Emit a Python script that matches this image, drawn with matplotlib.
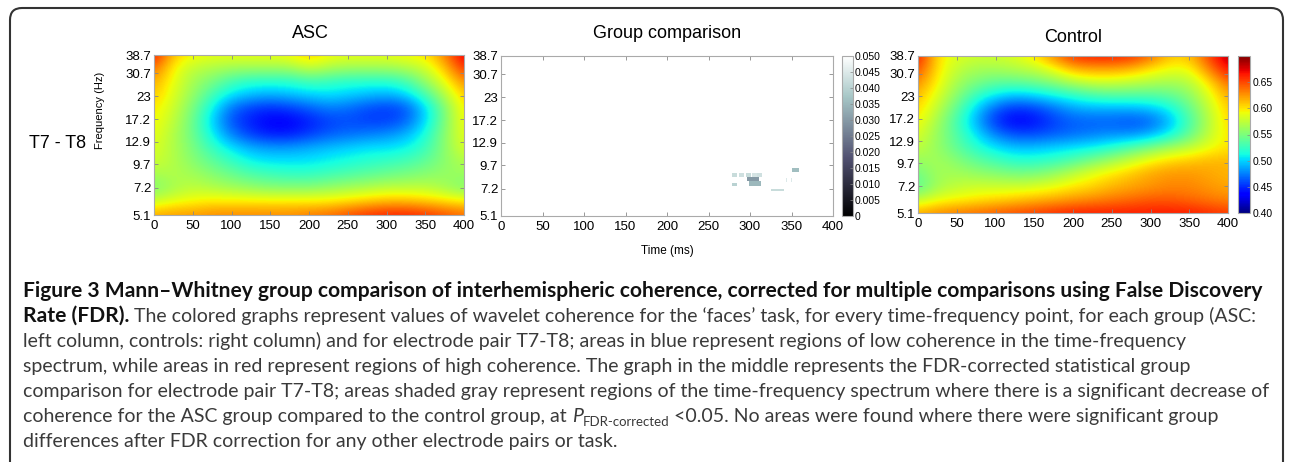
import numpy as np
import matplotlib
matplotlib.use('Agg')
import matplotlib.pyplot as plt
from matplotlib.patches import FancyBboxPatch
from matplotlib.transforms import IdentityTransform

W, H = 1290, 462
plt.rcParams['font.family'] = ['Liberation Sans', 'DejaVu Sans']

# ---- data ----
times = [0, 25, 50, 75, 100, 125, 150, 175, 200, 225, 250, 275, 300, 325, 350, 375, 400]
freq_rows = [5.1, 6.0, 7.15, 8.5, 10.0, 11.9, 14.1, 16.7, 19.7, 23.4, 27.7, 32.7, 38.7]
freq_ticks = [5.1, 7.2, 9.7, 12.9, 17.2, 23, 30.7, 38.7]
freq_labels = ['5.1', '7.2', '9.7', '12.9', '17.2', '23', '30.7', '38.7']
time_ticks = [0, 50, 100, 150, 200, 250, 300, 350, 400]

# ASC coherence, rows = freq_rows (bottom -> top), cols = times
asc = [
    [.620, .625, .625, .630, .630, .630, .630, .630, .635, .640, .650, .660, .665, .665, .660, .650, .640],
    [.580, .590, .595, .600, .600, .600, .600, .600, .600, .600, .605, .610, .615, .615, .610, .605, .600],
    [.550, .565, .575, .570, .565, .560, .555, .555, .555, .560, .565, .570, .575, .575, .575, .565, .550],
    [.565, .570, .565, .555, .545, .535, .530, .525, .525, .530, .535, .540, .545, .550, .555, .560, .560],
    [.580, .570, .555, .540, .525, .510, .505, .505, .505, .510, .515, .520, .525, .530, .540, .555, .570],
    [.585, .570, .550, .525, .505, .490, .485, .485, .490, .495, .500, .505, .505, .510, .525, .555, .585],
    [.590, .570, .545, .510, .475, .455, .445, .445, .455, .465, .470, .475, .480, .490, .515, .555, .590],
    [.595, .575, .545, .500, .460, .445, .435, .435, .445, .455, .460, .455, .455, .465, .500, .550, .595],
    [.600, .580, .550, .510, .470, .455, .450, .455, .465, .475, .470, .460, .455, .460, .500, .550, .600],
    [.610, .585, .560, .530, .505, .495, .490, .495, .500, .505, .500, .495, .490, .500, .530, .570, .610],
    [.620, .590, .565, .550, .530, .520, .520, .520, .530, .525, .520, .520, .520, .530, .560, .590, .630],
    [.640, .595, .575, .570, .565, .565, .565, .565, .580, .570, .565, .565, .565, .570, .580, .610, .660],
    [.670, .610, .595, .590, .590, .590, .590, .595, .610, .595, .590, .590, .590, .595, .600, .630, .680],
]

# Control coherence
control = [
    [.620, .630, .635, .640, .645, .650, .655, .660, .665, .665, .665, .665, .665, .665, .665, .660, .655],
    [.575, .590, .595, .600, .605, .610, .615, .620, .625, .630, .635, .640, .645, .645, .640, .635, .630],
    [.535, .565, .575, .580, .580, .580, .585, .590, .600, .605, .615, .620, .625, .630, .630, .625, .620],
    [.545, .565, .565, .560, .555, .550, .550, .560, .575, .590, .600, .610, .620, .625, .625, .620, .615],
    [.560, .565, .555, .540, .530, .520, .520, .525, .535, .550, .565, .580, .595, .605, .610, .615, .615],
    [.575, .560, .540, .520, .505, .495, .495, .500, .505, .510, .520, .535, .550, .565, .575, .590, .600],
    [.585, .560, .535, .505, .475, .460, .460, .465, .470, .475, .480, .480, .490, .510, .540, .575, .600],
    [.595, .565, .530, .490, .450, .435, .440, .455, .465, .465, .465, .460, .465, .490, .530, .570, .605],
    [.605, .575, .540, .500, .465, .450, .455, .470, .485, .490, .490, .490, .495, .510, .540, .575, .610],
    [.615, .585, .555, .525, .505, .495, .500, .510, .520, .530, .535, .535, .535, .540, .555, .585, .620],
    [.630, .595, .565, .550, .540, .540, .545, .555, .570, .580, .580, .575, .570, .565, .570, .600, .640],
    [.650, .600, .575, .565, .565, .570, .575, .590, .615, .620, .620, .615, .600, .590, .590, .630, .670],
    [.670, .600, .585, .580, .580, .585, .600, .630, .660, .665, .665, .660, .640, .610, .610, .650, .690],
]

# significant patches in the group comparison (time ms, freq Hz, p)
sig_t0 = [278, 286, 294, 302, 309, 296, 298, 278, 325, 342, 348, 351]
sig_t1 = [284, 292, 300, 308, 313, 310, 312, 283, 340, 344, 350, 358]
sig_f0 = [8.45, 8.45, 8.45, 8.45, 8.45, 7.9, 7.4, 7.4, 7.0, 7.8, 7.8, 8.9]
sig_f1 = [8.75, 8.75, 8.75, 8.75, 8.75, 8.45, 7.9, 7.7, 7.25, 8.3, 8.3, 9.4]
sig_p = [.042, .043, .042, .044, .043, .030, .035, .040, .042, .045, .045, .036]

cb_ticks_p = [0, .005, .010, .015, .020, .025, .030, .035, .040, .045, .050]
cb_ticks_c = [.40, .45, .50, .55, .60, .65]

# ---- figure ----
fig = plt.figure(figsize=(W / 100, H / 100), dpi=100)


def add_ax(l, t, r, b):
    return fig.add_axes([l / W, 1 - b / H, (r - l) / W, (b - t) / H])


lf = np.log2(freq_rows)
step = (lf[-1] - lf[0]) / (len(lf) - 1)
ext = [times[0] - 12.5, times[-1] + 12.5, lf[0] - step / 2, lf[-1] + step / 2]


def style(ax):
    ax.set_xlim(0, 400)
    ax.set_ylim(lf[0], lf[-1])
    ax.set_xticks(time_ticks)
    ax.set_yticks(np.log2(freq_ticks), freq_labels)
    ax.tick_params(direction='in', top=True, right=True, length=3, width=0.6,
                   color='#888888', labelcolor='black', labelsize=9.5, pad=2)
    ax.tick_params(axis='x', pad=3.5)
    for s in ax.spines.values():
        s.set_color('#aaaaaa')
        s.set_linewidth(0.8)


ax1 = add_ax(154, 55, 464, 215)
im1 = ax1.imshow(np.array(asc), origin='lower', aspect='auto', extent=ext,
                 cmap='jet', vmin=0.40, vmax=0.70, interpolation='bicubic')
style(ax1)

ax2 = add_ax(501, 56, 833, 216)
tg = np.arange(1, 400, 2)
fe = np.linspace(lf[0], lf[-1], 147)
fc = (fe[:-1] + fe[1:]) / 2
grid = np.full((len(fc), len(tg)), np.nan)
for t0, t1, f0, f1, p in zip(sig_t0, sig_t1, sig_f0, sig_f1, sig_p):
    ci = (tg >= t0) & (tg <= t1)
    ri = (fc >= np.log2(f0)) & (fc <= np.log2(f1))
    grid[np.ix_(ri, ci)] = p
bone = plt.get_cmap('bone').copy()
bone.set_bad('white')
im2 = ax2.imshow(grid, origin='lower', aspect='auto', extent=[0, 400, lf[0], lf[-1]],
                 cmap=bone, vmin=0, vmax=0.05, interpolation='nearest')
style(ax2)
cax2 = add_ax(842, 56, 853, 216)
cb2 = fig.colorbar(im2, cax=cax2, ticks=cb_ticks_p)
cb2.ax.set_yticklabels(['0'] + ['%.3f' % v for v in cb_ticks_p[1:]])
cb2.ax.tick_params(direction='in', length=2, width=0.5, color='#888888', labelsize=7.5, pad=1)
cb2.outline.set_edgecolor('#aaaaaa')
cb2.outline.set_linewidth(0.8)

ax3 = add_ax(918, 56, 1228, 213)
im3 = ax3.imshow(np.array(control), origin='lower', aspect='auto', extent=ext,
                 cmap='jet', vmin=0.40, vmax=0.70, interpolation='bicubic')
style(ax3)
cax3 = add_ax(1238, 56, 1250, 213)
cb3 = fig.colorbar(im3, cax=cax3, ticks=cb_ticks_c)
cb3.ax.set_yticklabels(['%.2f' % v for v in cb_ticks_c])
cb3.ax.tick_params(direction='in', length=2, width=0.5, color='#888888', labelsize=7.5, pad=2)
cb3.outline.set_edgecolor('#aaaaaa')
cb3.outline.set_linewidth(0.8)

# titles and labels
fig.text(310 / W, 1 - 34 / H, 'ASC', ha='center', va='center', fontsize=13)
fig.text(667 / W, 1 - 33 / H, 'Group comparison', ha='center', va='center', fontsize=13)
fig.text(1073 / W, 1 - 37 / H, 'Control', ha='center', va='center', fontsize=13)
fig.text(58 / W, 1 - 143 / H, 'T7 - T8', ha='center', va='center', fontsize=13)
fig.text(100 / W, 1 - 110 / H, 'Frequency (Hz)', ha='center', va='center',
         rotation=90, fontsize=8)
fig.text(667 / W, 1 - 251 / H, 'Time (ms)', ha='center', va='center', fontsize=8.5)

# frame with rounded top corners
frame = FancyBboxPatch((10, -30), 1273, H - 8 + 30, boxstyle='round,pad=0,rounding_size=12',
                       transform=IdentityTransform(), facecolor='none',
                       edgecolor='#333333', linewidth=1.5, clip_on=False)
fig.patches.append(frame)

# caption
renderer = fig.canvas.get_renderer()
cap_font = ['Lato', 'DejaVu Sans']
bold_col = '#111111'
reg_col = '#3a3a3a'


def put(x, y, s, size, **kw):
    t = fig.text(x / W, 1 - y / H, s, va='baseline', ha='left', fontsize=size,
                 family=cap_font, **kw)
    return t.get_window_extent(renderer).x1


def width_at(s, size, **kw):
    t = fig.text(0, 0, s, fontsize=size, family=cap_font, **kw)
    w = t.get_window_extent(renderer).width
    t.remove()
    return w


line1 = ('Figure 3 Mann\u2013Whitney group comparison of interhemispheric coherence, '
         'corrected for multiple comparisons using False Discovery')
line5 = ('comparison for electrode pair T7-T8; areas shaded gray represent regions of the '
         'time-frequency spectrum where there is a significant decrease of')
fs_b = 12 * 1232 / width_at(line1, 12, weight='bold')
fs = 12 * 1244 / width_at(line5, 12)

x0 = 23
base = [297, 322, 347, 372, 397, 422, 447]
put(x0, base[0], line1, fs_b, weight='bold', color=bold_col)
x = put(x0, base[1], 'Rate (FDR).', fs_b, weight='bold', color=bold_col)
put(x, base[1], ' The colored graphs represent values of wavelet coherence for the \u2018faces\u2019 '
    'task, for every time-frequency point, for each group (ASC:', fs, color=reg_col)
put(x0, base[2], 'left column, controls: right column) and for electrode pair T7-T8; areas in '
    'blue represent regions of low coherence in the time-frequency', fs, color=reg_col)
put(x0, base[3], 'spectrum, while areas in red represent regions of high coherence. The graph in '
    'the middle represents the FDR-corrected statistical group', fs, color=reg_col)
put(x0, base[4], line5, fs, color=reg_col)
x = put(x0, base[5], 'coherence for the ASC group compared to the control group, at ', fs,
        color=reg_col)
x = put(x, base[5], 'P', fs, style='italic', color=reg_col)
x = put(x, base[5] + 4, 'FDR-corrected', fs * 0.68, color=reg_col)
put(x, base[5], ' <0.05. No areas were found where there were significant group', fs,
    color=reg_col)
put(x0, base[6], 'differences after FDR correction for any other electrode pairs or task.', fs,
    color=reg_col)

fig.savefig('out.png', dpi=100)
